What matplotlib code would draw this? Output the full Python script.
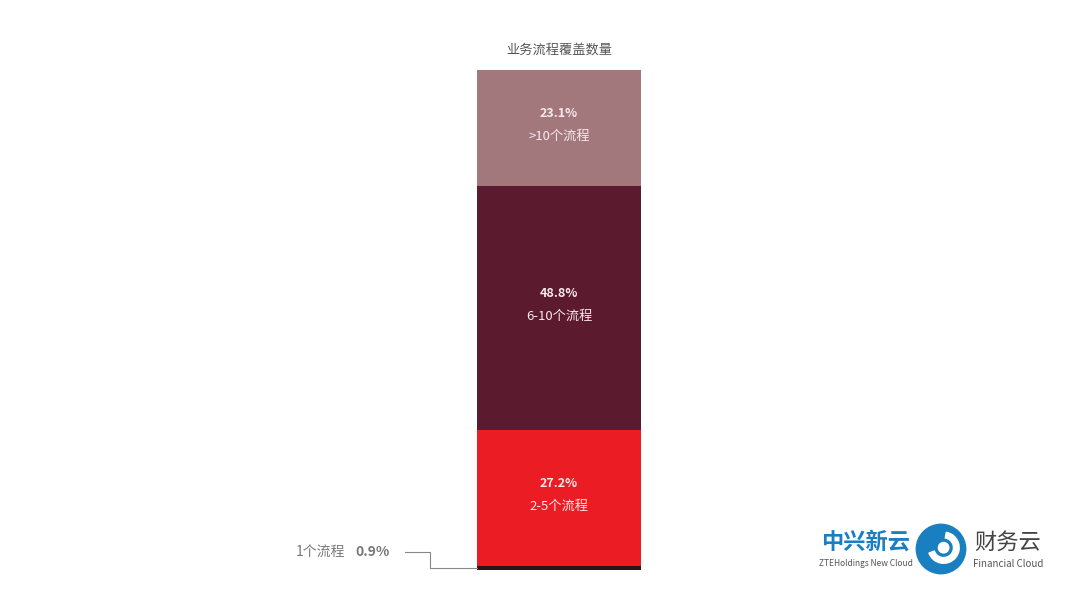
import matplotlib
matplotlib.use("Agg")
import matplotlib.pyplot as plt
from matplotlib.patches import Circle, Wedge
from matplotlib.lines import Line2D

plt.rcParams["font.family"] = ["Noto Sans CJK SC", "DejaVu Sans"]

# bottom -> top
labels = ["1个流程", "2-5个流程", "6-10个流程", ">10个流程"]
shares = [0.9, 27.2, 48.8, 23.1]
colors = ["#2a1416", "#ec1c24", "#5b1a2d", "#a3787d"]
title = "业务流程覆盖数量"

W, H = 1080, 607
fig = plt.figure(figsize=(W / 100, H / 100), dpi=100)
fig.patch.set_facecolor("white")

# bar axes in pixel-based placement
bx0, bx1, by0, by1 = 477, 641, 70, 570
ax = fig.add_axes([bx0 / W, 1 - by1 / H, (bx1 - bx0) / W, (by1 - by0) / H])
bottom = 0.0
for lab, v, c in zip(labels, shares, colors):
    ax.bar(0.5, v, width=1.0, bottom=bottom, color=c, edgecolor="none")
    mid = bottom + v / 2
    if v > 5:
        ax.annotate(f"{v:.1f}%", (0.5, mid), xytext=(0, 10), textcoords="offset points",
                    ha="center", va="center", fontsize=9, fontweight="bold", color="#f7eaec")
        ax.annotate(lab, (0.5, mid), xytext=(0, -6), textcoords="offset points",
                    ha="center", va="center", fontsize=9.5, color="#f7eaec")
    bottom += v
ax.set_xlim(0, 1)
ax.set_ylim(0, sum(shares))
ax.axis("off")

fig.text(559 / W, 1 - 50 / H, title, ha="center", va="center", fontsize=9.5, color="#555555")

# small slice callout
small_mid = shares[0] / 2
pt = fig.transFigure.inverted().transform(ax.transData.transform((0, small_mid)))
lx, ly = 405 / W, 1 - 552 / H
kx = 430 / W
fig.add_artist(Line2D([lx, kx, kx, pt[0]], [ly, ly, pt[1], pt[1]],
                      transform=fig.transFigure, color="#888888", lw=0.8))
fig.text(345 / W, ly, labels[0], ha="right", va="center", fontsize=10, color="#777777")
fig.text(355 / W, ly, f"{shares[0]:.1f}%", ha="left", va="center", fontsize=10,
         fontweight="bold", color="#777777")

# logo
fig.text(866 / W, 1 - 542 / H, "中兴新云", ha="center", va="center", fontsize=16,
         fontweight="bold", color="#1a7fc1")
fig.text(866 / W, 1 - 564 / H, "ZTEHoldings New Cloud", ha="center", va="center",
         fontsize=6, color="#555555")
lax = fig.add_axes([915 / W, 1 - 577 / H, 52 / W, 56 / H])
lax.set_xlim(-1, 1)
lax.set_ylim(-1, 1)
lax.set_aspect("equal")
lax.axis("off")
lax.add_patch(Circle((0, 0), 0.95, color="#1a7fc1"))
lax.add_patch(Wedge((0.1, 0.05), 0.6, 200, 80, width=0.22, color="white"))
lax.add_patch(Circle((0.1, 0.05), 0.2, color="white"))
fig.text(1008 / W, 1 - 542 / H, "财务云", ha="center", va="center", fontsize=16,
         color="#444444")
fig.text(1008 / W, 1 - 564 / H, "Financial Cloud", ha="center", va="center",
         fontsize=7, color="#555555")

fig.savefig("out.png", dpi=100)
